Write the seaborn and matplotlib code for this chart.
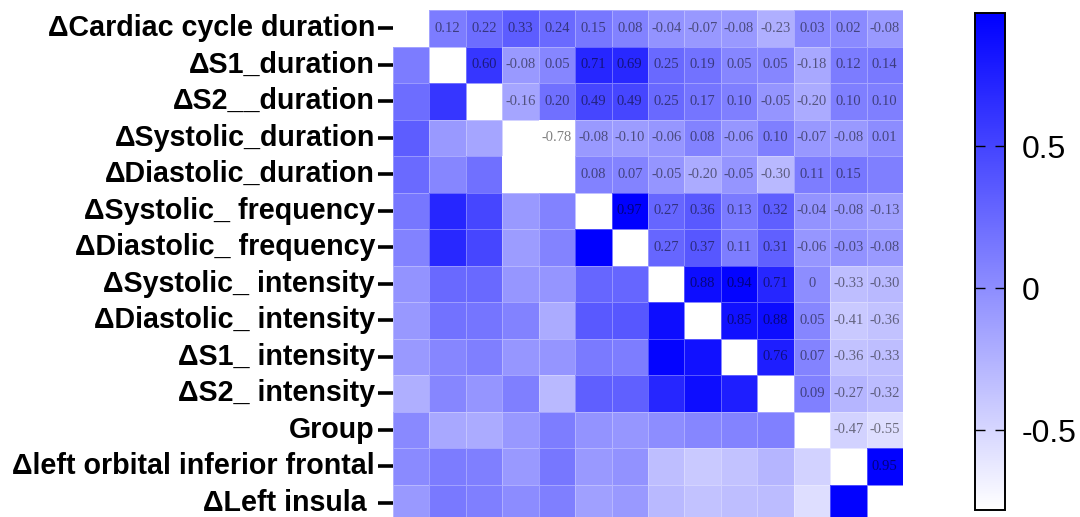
import numpy as np
import pandas as pd
import seaborn as sns
import matplotlib
matplotlib.use('Agg')
import matplotlib.pyplot as plt
from matplotlib.colors import LinearSegmentedColormap

# row / column names of the correlation matrix
labels = ['ΔCardiac cycle duration', 'ΔS1_duration', 'ΔS2__duration',
          'ΔSystolic_duration', 'ΔDiastolic_duration', 'ΔSystolic_ frequency',
          'ΔDiastolic_ frequency', 'ΔSystolic_ intensity', 'ΔDiastolic_ intensity',
          'ΔS1_ intensity', 'ΔS2_ intensity', 'Group',
          'Δleft orbital inferior frontal', 'ΔLeft insula ']

# upper triangle, row by row (values right of the diagonal)
upper = [
    [0.12, 0.22, 0.33, 0.24, 0.15, 0.08, -0.04, -0.07, -0.08, -0.23, 0.03, 0.02, -0.08],
    [0.60, -0.08, 0.05, 0.71, 0.69, 0.25, 0.19, 0.05, 0.05, -0.18, 0.12, 0.14],
    [-0.16, 0.20, 0.49, 0.49, 0.25, 0.17, 0.10, -0.05, -0.20, 0.10, 0.10],
    [-0.78, -0.08, -0.10, -0.06, 0.08, -0.06, 0.10, -0.07, -0.08, 0.01],
    [0.08, 0.07, -0.05, -0.20, -0.05, -0.30, 0.11, 0.15, 0.10],
    [0.97, 0.27, 0.36, 0.13, 0.32, -0.04, -0.08, -0.13],
    [0.27, 0.37, 0.11, 0.31, -0.06, -0.03, -0.08],
    [0.88, 0.94, 0.71, 0, -0.33, -0.30],
    [0.85, 0.88, 0.05, -0.41, -0.36],
    [0.76, 0.07, -0.36, -0.33],
    [0.09, -0.27, -0.32],
    [-0.47, -0.55],
    [0.95],
]
# cells that carry no printed value in the original
no_label = [(4, 13)]

n = len(labels)
mat = np.full((n, n), np.nan)
annot = np.full((n, n), '', dtype=object)
for i, row in enumerate(upper):
    for k, v in enumerate(row):
        j = i + 1 + k
        mat[i, j] = mat[j, i] = v
        annot[i, j] = '0' if v == 0 else f'{v:.2f}'
for i, j in no_label:
    annot[i, j] = ''

df = pd.DataFrame(mat, index=labels, columns=labels)

cmap = LinearSegmentedColormap.from_list('wb', ['#ffffff', '#0000ff'])

W, H = 1080, 517
fig = plt.figure(figsize=(W / 100, H / 100), dpi=100)
ax = fig.add_axes([393 / W, 1 - 10 / H - 511 / H, 510 / W, 511 / H])
cax = fig.add_axes([975 / W, 1 - 510 / H, 30 / W, 497 / H])

sns.heatmap(df, ax=ax, cbar_ax=cax, cmap=cmap, vmin=-0.78, vmax=0.97,
            mask=np.eye(n, dtype=bool), annot=annot, fmt='',
            annot_kws={'color': 'black', 'alpha': 0.5, 'fontsize': 10.5,
                       'family': 'Liberation Serif'},
            linewidths=0.5, linecolor=(1, 1, 1, 0.3), xticklabels=False)

ax.set_yticks(np.arange(n) + 0.5)
ax.set_yticklabels(labels, rotation=0, fontsize=20.6, fontweight='bold',
                   family='Liberation Sans')
ax.tick_params(axis='y', length=11, width=2.6, pad=2, color='black')
ax.tick_params(axis='x', length=0)
ax.set_xlabel('')
ax.set_ylabel('')

# colorbar styling
cbar = ax.collections[0].colorbar
cbar.set_ticks([-0.5, 0, 0.5])
cbar.set_ticklabels(['-0.5', '0', '0.5'])
cbar.outline.set_visible(True)
cbar.outline.set_edgecolor('black')
cbar.outline.set_linewidth(1.4)
cax.tick_params(direction='in', length=7, width=1, left=True, right=True,
                labelsize=23, pad=12)
for t in cax.get_yticklabels():
    t.set_family('Liberation Sans')

fig.savefig('out.png', dpi=100)
